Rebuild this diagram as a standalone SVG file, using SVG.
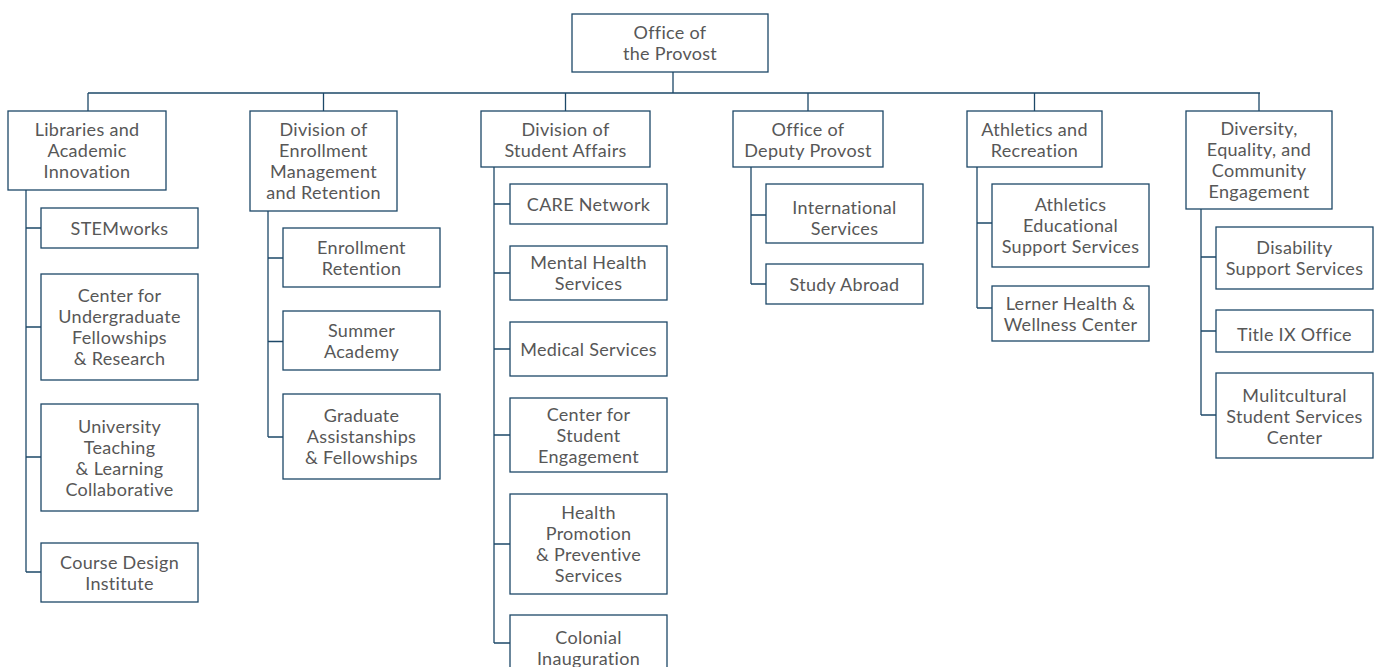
<svg xmlns="http://www.w3.org/2000/svg" width="1377" height="667" viewBox="0 0 1377 667">
<style>
rect{fill:#fff;stroke:#1d4868;stroke-width:1.3}
text{font-family:Lato,"Noto Sans","Liberation Sans",sans-serif;font-size:18px;font-weight:400;letter-spacing:0.3px;fill:#575757;text-anchor:middle}
#connectors path{fill:none;stroke:#1d4868;stroke-width:1.3}
</style>
<rect x="0" y="0" width="1377" height="667" style="fill:#fff;stroke:none"/>
<g id="connectors">
<path d="M673 72V93M88 93H1260M88 93V111M323.5 93V111M565.5 93V111M808 93V111M1034.5 93V111M1259 93V111"/>
<path d="M26 190V572M26 228H41M26 327H41M26 457H41M26 572H41"/>
<path d="M268 211V437M268 258H283M268 341.5H283M268 437H283"/>
<path d="M494 167V643M494 204H510M494 273H510M494 349H510M494 435H510M494 544H510M494 643H510"/>
<path d="M751 167V284M751 215H766M751 284H766"/>
<path d="M977 167V308M977 223H992M977 308H992"/>
<path d="M1201 209V415M1201 257H1216M1201 331H1216M1201 415H1216"/>
</g>
<g id="provost"><rect x="572" y="14" width="196" height="58"/><text x="670" y="39">Office of</text><text x="670" y="60">the Provost</text></g>
<g id="libraries"><rect x="8" y="111" width="158" height="79"/><text x="87" y="136">Libraries and</text><text x="87" y="157">Academic</text><text x="87" y="178">Innovation</text></g>
<g id="enrollment"><rect x="250" y="111" width="147" height="100"/><text x="323.5" y="136">Division of</text><text x="323.5" y="157">Enrollment</text><text x="323.5" y="178">Management</text><text x="323.5" y="199">and Retention</text></g>
<g id="studentaffairs"><rect x="481" y="111" width="169" height="56"/><text x="565.5" y="135.5">Division of</text><text x="565.5" y="156.5">Student Affairs</text></g>
<g id="deputy"><rect x="733" y="111" width="150" height="56"/><text x="808" y="135.5">Office of</text><text x="808" y="156.5">Deputy Provost</text></g>
<g id="athletics"><rect x="967" y="111" width="135" height="56"/><text x="1034.5" y="135.5">Athletics and</text><text x="1034.5" y="156.5">Recreation</text></g>
<g id="diversity"><rect x="1186" y="111" width="146" height="98"/><text x="1259" y="135">Diversity,</text><text x="1259" y="156">Equality, and</text><text x="1259" y="177">Community</text><text x="1259" y="198">Engagement</text></g>

<g id="stemworks"><rect x="41" y="208" width="157" height="40"/><text x="119.5" y="234.5">STEMworks</text></g>
<g id="cufr"><rect x="41" y="274" width="157" height="106"/><text x="119.5" y="302">Center for</text><text x="119.5" y="323">Undergraduate</text><text x="119.5" y="344">Fellowships</text><text x="119.5" y="365">&amp; Research</text></g>
<g id="utlc"><rect x="41" y="404" width="157" height="107"/><text x="119.5" y="432.5">University</text><text x="119.5" y="453.5">Teaching</text><text x="119.5" y="474.5">&amp; Learning</text><text x="119.5" y="495.5">Collaborative</text></g>
<g id="cdi"><rect x="41" y="543" width="157" height="59"/><text x="119.5" y="568.5">Course Design</text><text x="119.5" y="589.5">Institute</text></g>

<g id="er"><rect x="283" y="228" width="157" height="59"/><text x="361.5" y="253.5">Enrollment</text><text x="361.5" y="274.5">Retention</text></g>
<g id="summer"><rect x="283" y="311" width="157" height="59"/><text x="361.5" y="336.5">Summer</text><text x="361.5" y="357.5">Academy</text></g>
<g id="gaf"><rect x="283" y="394" width="157" height="85"/><text x="361.5" y="422">Graduate</text><text x="361.5" y="443">Assistanships</text><text x="361.5" y="464">&amp; Fellowships</text></g>

<g id="care"><rect x="510" y="184" width="157" height="40"/><text x="588.5" y="210.5">CARE Network</text></g>
<g id="mh"><rect x="510" y="246" width="157" height="54"/><text x="588.5" y="269">Mental Health</text><text x="588.5" y="290">Services</text></g>
<g id="med"><rect x="510" y="322" width="157" height="54"/><text x="588.5" y="355.5">Medical Services</text></g>
<g id="cse"><rect x="510" y="398" width="157" height="74"/><text x="588.5" y="420.5">Center for</text><text x="588.5" y="441.5">Student</text><text x="588.5" y="462.5">Engagement</text></g>
<g id="hp"><rect x="510" y="494" width="157" height="100"/><text x="588.5" y="519">Health</text><text x="588.5" y="540">Promotion</text><text x="588.5" y="561">&amp; Preventive</text><text x="588.5" y="582">Services</text></g>
<g id="colonial"><rect x="510" y="615" width="157" height="60"/><text x="588.5" y="643.5">Colonial</text><text x="588.5" y="664.5">Inauguration</text></g>

<g id="intl"><rect x="766" y="184" width="157" height="59"/><text x="844.5" y="213.5">International</text><text x="844.5" y="234.5">Services</text></g>
<g id="abroad"><rect x="766" y="264" width="157" height="40"/><text x="844.5" y="290.5">Study Abroad</text></g>

<g id="aess"><rect x="992" y="184" width="157" height="83"/><text x="1070.5" y="210.5">Athletics</text><text x="1070.5" y="231.5">Educational</text><text x="1070.5" y="252.5">Support Services</text></g>
<g id="lerner"><rect x="992" y="286" width="157" height="55"/><text x="1070.5" y="310">Lerner Health &amp;</text><text x="1070.5" y="331">Wellness Center</text></g>

<g id="dss"><rect x="1216" y="227" width="157" height="62"/><text x="1294.5" y="254">Disability</text><text x="1294.5" y="275">Support Services</text></g>
<g id="titleix"><rect x="1216" y="310" width="157" height="42"/><text x="1294.5" y="340.5">Title IX Office</text></g>
<g id="mssc"><rect x="1216" y="373" width="157" height="85"/><text x="1294.5" y="401.5">Mulitcultural</text><text x="1294.5" y="422.5">Student Services</text><text x="1294.5" y="443.5">Center</text></g>
</svg>
